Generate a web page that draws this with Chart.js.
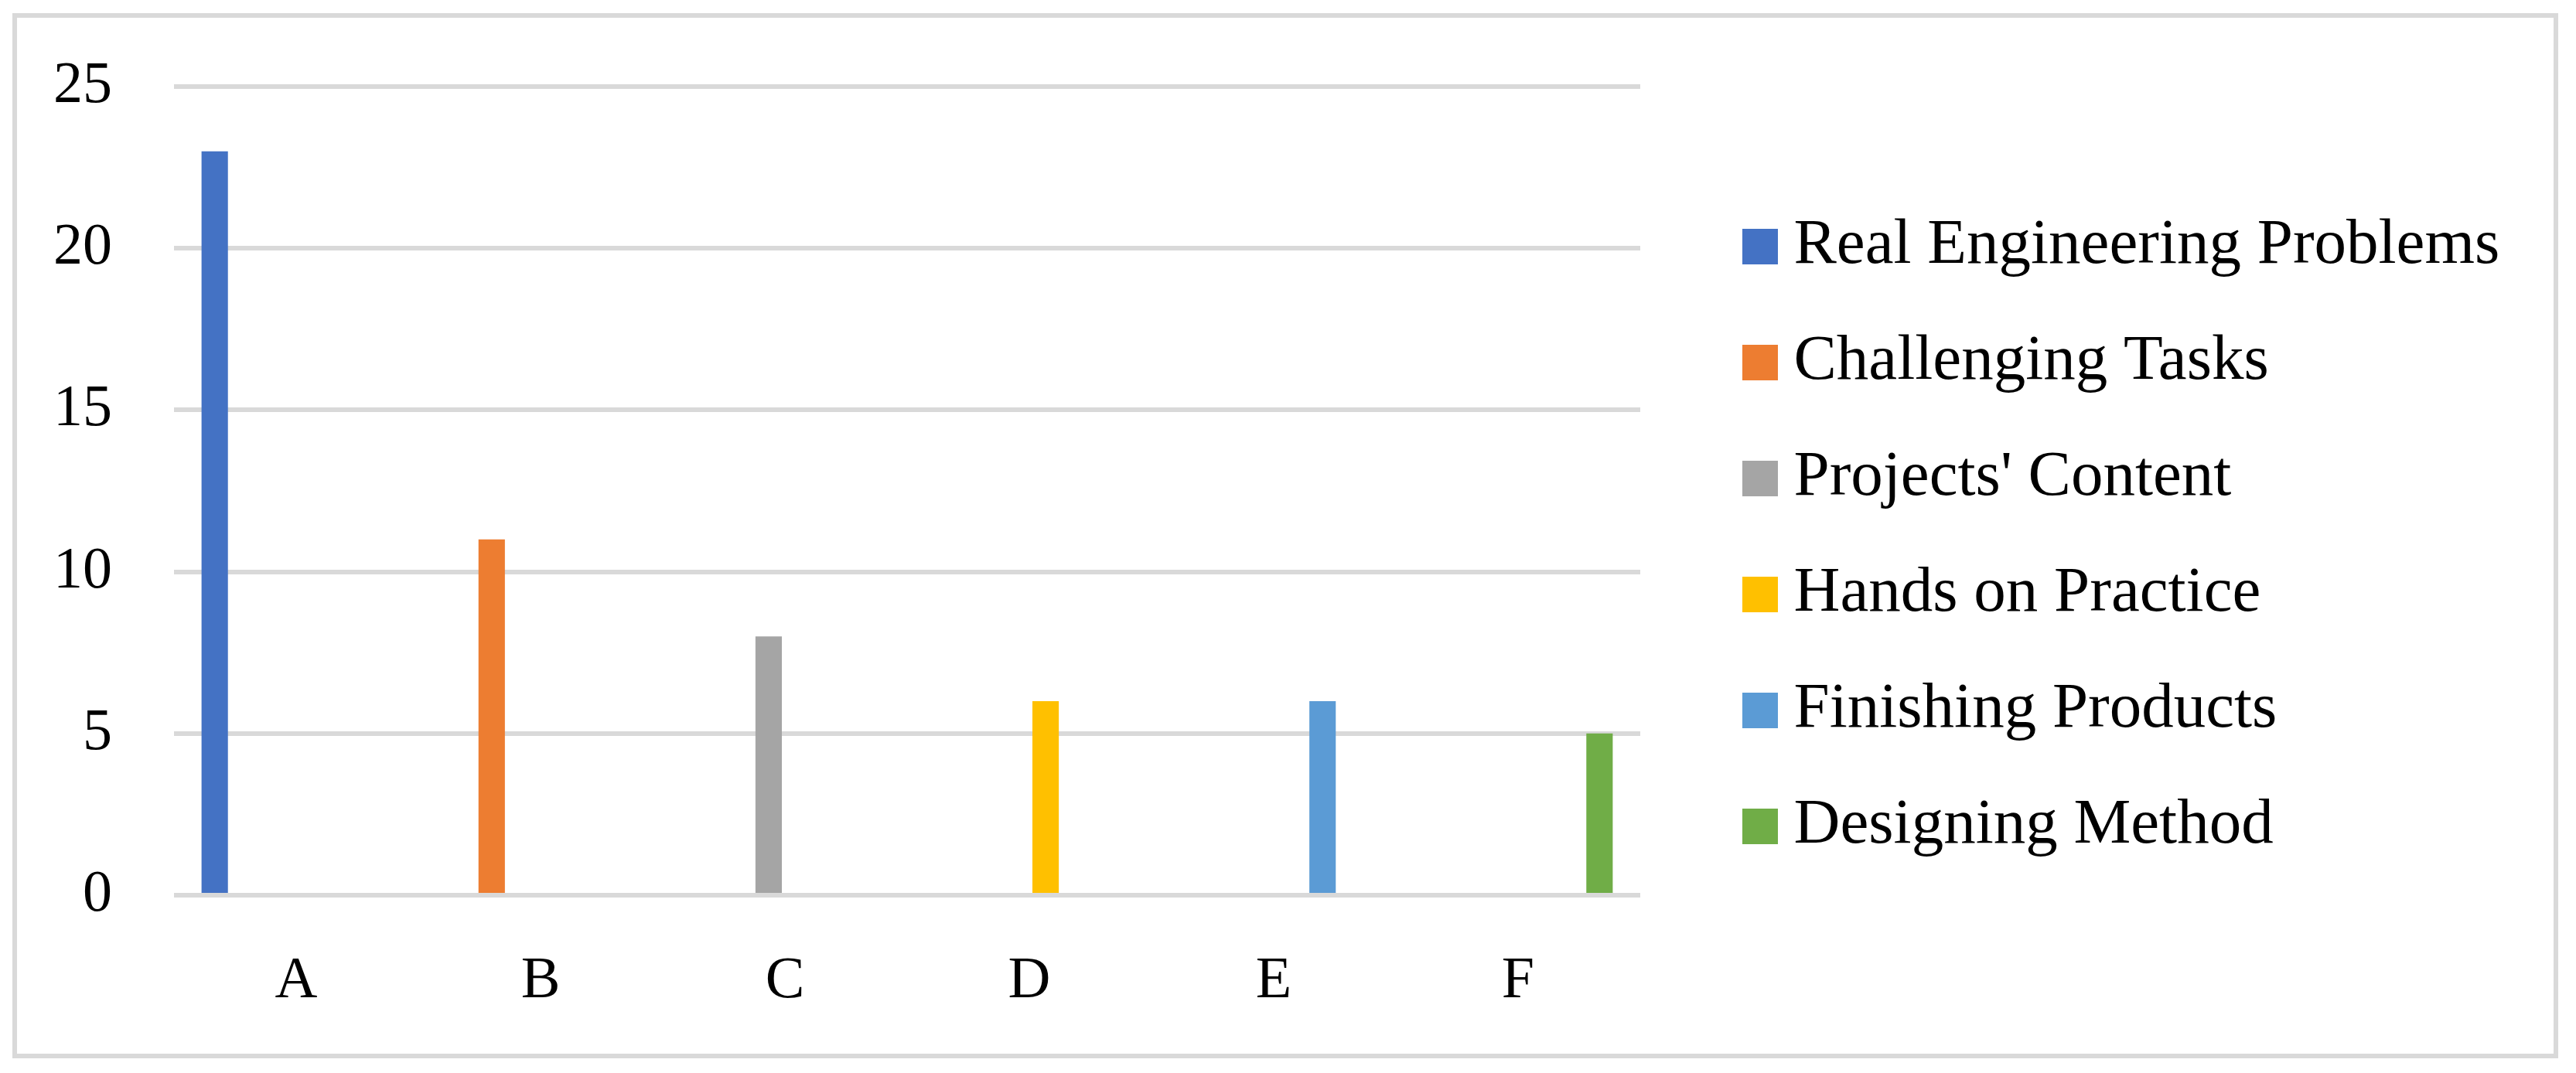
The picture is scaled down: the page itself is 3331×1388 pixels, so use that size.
<!DOCTYPE html>
<html><head><meta charset="utf-8">
<script src="https://cdn.jsdelivr.net/npm/chart.js@4.4.1/dist/chart.umd.min.js"></script>
<style>html,body{margin:0;padding:0;background:#fff;overflow:hidden;} #wrap{width:3331px;height:1388px;position:relative;}</style>
</head><body><div id="wrap"><canvas id="c"></canvas></div>
<script>
// ---- data ----
const categories = ['A', 'B', 'C', 'D', 'E', 'F'];
const seriesNames = ['Real Engineering Problems', 'Challenging Tasks', "Projects' Content", 'Hands on Practice', 'Finishing Products', 'Designing Method'];
const realEngineeringProblems = [23, 0, 0, 0, 0, 0];
const challengingTasks = [0, 11, 0, 0, 0, 0];
const projectsContent = [0, 0, 8, 0, 0, 0];
const handsOnPractice = [0, 0, 0, 6, 0, 0];
const finishingProducts = [0, 0, 0, 0, 6, 0];
const designingMethod = [0, 0, 0, 0, 0, 5];
const yTickValues = [0, 5, 10, 15, 20, 25];
const seriesColors = ['#4472C4', '#ED7D31', '#A5A5A5', '#FFC000', '#5B9BD5', '#70AD47'];

const seriesValues = [realEngineeringProblems, challengingTasks, projectsContent, handsOnPractice, finishingProducts, designingMethod];

function swatch(color) {
  const c = document.createElement('canvas');
  c.width = 46; c.height = 46;
  const g = c.getContext('2d');
  g.fillStyle = color; g.fillRect(0, 0, 46, 46);
  return c;
}
const swatches = seriesColors.map(swatch);

Chart.defaults.font.family = "'Liberation Serif', 'Times New Roman', serif";
Chart.defaults.color = '#000';

const frame = {
  id: 'frame',
  beforeLayout(chart) {
    const lg = chart.legend;
    if (lg && !lg._fixedWidth) {
      const f = lg.fit;
      lg.fit = function () { f.call(this); this.width = 1100; };
      lg._fixedWidth = true;
    }
  },
  beforeDraw(chart) {
    const g = chart.ctx;
    g.save();
    g.fillStyle = '#fff';
    g.fillRect(0, 0, chart.width, chart.height);
    g.strokeStyle = '#d9d9d9';
    g.lineWidth = 6;
    g.strokeRect(19, 20, 3305 - 19, 1366 - 20);
    g.restore();
  }
};

new Chart(document.getElementById('c'), {
  type: 'bar',
  data: {
    labels: categories,
    datasets: seriesNames.map((name, i) => ({
      label: name,
      data: seriesValues[i],
      backgroundColor: seriesColors[i],
      borderWidth: 0,
      categoryPercentage: 0.8,
      barPercentage: 0.81
    }))
  },
  options: {
    responsive: true,
    maintainAspectRatio: false,
    animation: false,
    devicePixelRatio: 1,
    layout: { padding: { left: 0, top: 112, right: 24, bottom: 30 } },
    plugins: {
      tooltip: { enabled: false },
      legend: {
        position: 'right',
        align: 'start',
        title: { display: true, text: ' ', font: { size: 10, lineHeight: 1 }, padding: { top: 88, bottom: 0 } },
        labels: {
          font: { size: 83 },
          color: '#000',
          usePointStyle: true,
          pointStyleWidth: 4,
          boxHeight: 46,
          padding: 67,
          generateLabels(chart) {
            const items = Chart.defaults.plugins.legend.labels.generateLabels(chart);
            return items.map((it, i) => Object.assign(it, { pointStyle: swatches[i] }));
          }
        }
      }
    },
    scales: {
      x: {
        grid: { display: false, drawTicks: false },
        border: { display: false },
        ticks: { font: { size: 76 }, padding: 66, color: '#000' },
        afterFit(s) { s.height = 200; }
      },
      y: {
        min: yTickValues[0],
        max: yTickValues[yTickValues.length - 1],
        grid: { color: '#d9d9d9', lineWidth: 6, drawTicks: false },
        border: { display: false },
        ticks: { stepSize: yTickValues[1] - yTickValues[0], font: { size: 76 }, padding: 80, color: '#000' },
        afterFit(s) { s.width = 225; s.paddingTop = 0; s.paddingBottom = 0; }
      },
      gap: {
        type: 'linear',
        position: 'right',
        display: true,
        grid: { display: false, drawTicks: false },
        border: { display: false },
        ticks: { display: false },
        afterFit(s) { s.width = 86; }
      }
    }
  },
  plugins: [frame]
});
</script>
</body></html>
